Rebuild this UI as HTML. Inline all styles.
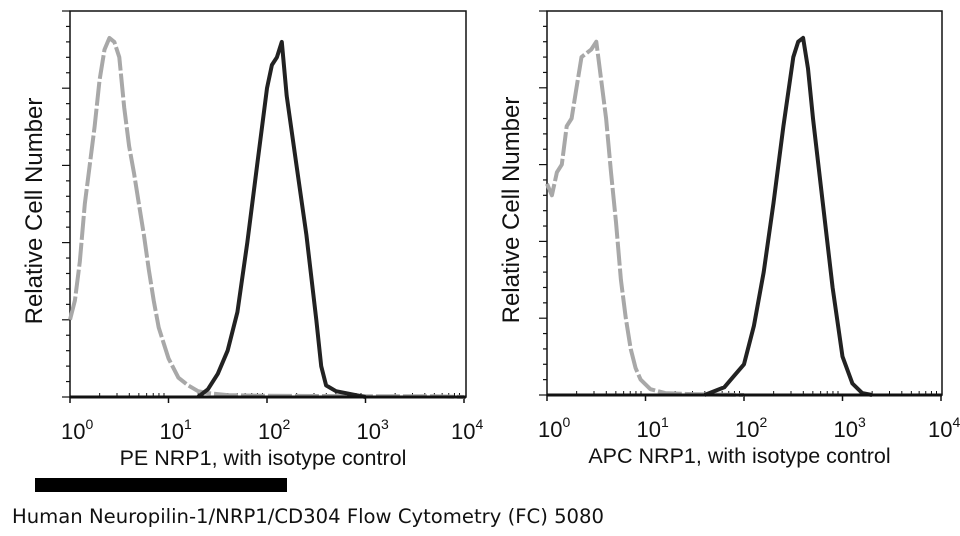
<!DOCTYPE html>
<html><head><meta charset="utf-8"><style>
body{margin:0;background:#fff;width:960px;height:536px;overflow:hidden}
svg{display:block}
</style></head><body>
<svg id="c" width="960" height="536" xmlns="http://www.w3.org/2000/svg">
<rect x="35" y="478" width="252" height="14" fill="#000"/>
<text x="12" y="523" font-family="'DejaVu Sans','Liberation Sans',sans-serif" font-size="19.5" textLength="592" lengthAdjust="spacingAndGlyphs" fill="#111">Human Neuropilin-1/NRP1/CD304 Flow Cytometry (FC) 5080</text>
</svg>
<script>
const decadeLabels = ["0","1","2","3","4"];
const leftGrayX = [0,0.05,0.1,0.15,0.2,0.25,0.3,0.35,0.4,0.45,0.5,0.55,0.6,0.65,0.7,0.75,0.8,0.85,0.9,0.95,1.0,1.1,1.2,1.3,1.4,1.6,2,3,3.7,4];
const leftGrayY = [0.2,0.25,0.35,0.5,0.6,0.7,0.82,0.9,0.93,0.92,0.88,0.75,0.65,0.58,0.5,0.42,0.33,0.25,0.18,0.14,0.1,0.05,0.03,0.015,0.01,0.005,0.003,0.002,0.002,0];
const leftBlackX = [1.3,1.4,1.5,1.6,1.7,1.8,1.9,2.0,2.05,2.1,2.15,2.2,2.3,2.4,2.5,2.55,2.6,2.7,2.9,3.0];
const leftBlackY = [0,0.02,0.06,0.12,0.22,0.4,0.6,0.8,0.86,0.88,0.92,0.78,0.6,0.42,0.2,0.08,0.03,0.015,0.005,0];
const rightGrayX = [0,0.05,0.1,0.15,0.2,0.25,0.3,0.35,0.45,0.5,0.55,0.6,0.65,0.7,0.75,0.8,0.85,0.9,0.95,1.05,1.2,1.5,2];
const rightGrayY = [0.55,0.52,0.58,0.6,0.7,0.72,0.8,0.88,0.9,0.92,0.82,0.72,0.58,0.45,0.3,0.2,0.12,0.07,0.04,0.015,0.005,0.002,0];
const rightBlackX = [1.6,1.8,1.9,2.0,2.1,2.2,2.3,2.4,2.5,2.55,2.6,2.65,2.7,2.8,2.9,3.0,3.1,3.2,3.3];
const rightBlackY = [0,0.02,0.05,0.08,0.18,0.32,0.5,0.7,0.88,0.92,0.93,0.85,0.72,0.5,0.28,0.1,0.03,0.005,0];

const NS="http://www.w3.org/2000/svg";
const svg=document.getElementById('c');
function mk(tag,attrs,parent){const e=document.createElementNS(NS,tag);for(const k in attrs)e.setAttribute(k,attrs[k]);(parent||svg).appendChild(e);return e;}

const panels=[
 {x0:70,x1:466,y0:11,y1:397,title:"PE NRP1, with isotype control",gx:leftGrayX,gy:leftGrayY,bx:leftBlackX,by:leftBlackY,name:"left"},
 {x0:547,x1:942,y0:11,y1:395,title:"APC NRP1, with isotype control",gx:rightGrayX,gy:rightGrayY,bx:rightBlackX,by:rightBlackY,name:"right"}
];
panels.forEach(p=>{
  const dec=98.5;
  const sx=v=>p.x0+v*dec;
  const sy=v=>p.y1-v*(p.y1-p.y0);
  const g=mk('g',{});
  
  
  const box=mk('rect',{x:p.x0,y:p.y0,width:p.x1-p.x0,height:p.y1-p.y0,fill:'none',stroke:'#111','stroke-width':1.5},g);
  
  
  for(let d=0;d<=4;d++){
    const t=mk('line',{x1:sx(d),x2:sx(d),y1:p.y1,y2:p.y1+6,stroke:'#111','stroke-width':1.5},g);
    
    
    const lab=mk('text',{x:sx(d)-(d===4?13:9),y:p.y1+42,'font-family':"'Liberation Sans',sans-serif",'font-size':22,fill:'#111'},g);
    
    
    lab.textContent='10';
    const sup=mk('tspan',{dy:-10,'font-size':14},lab);
    sup.textContent=decadeLabels[d];
    for(let m=2;m<=9;m++){
      const v=d+Math.log10(m); if(v>4.1)continue;
      const mt=mk('line',{x1:sx(v),x2:sx(v),y1:p.y1,y2:p.y1-4,stroke:'#111','stroke-width':1},g);
      
      
    }
  }
  for(let i=0;i<=25;i++){
    const y=p.y1-i*(p.y1-p.y0)/25;
    const major=i%5===0;
    const yt=mk('line',{x1:p.x0,x2:p.x0-(major?8:4),y1:y,y2:y,stroke:'#111','stroke-width':1.2},g);
    
    
  }
  const yl=mk('text',{x:0,y:0,transform:`translate(${p.x0-28},${(p.y0+p.y1)/2+7}) rotate(-90)`,'text-anchor':'middle','font-family':"'Liberation Sans',sans-serif",'font-size':24,fill:'#111'},g);
  
  
  yl.textContent='Relative Cell Number';
  const xl=mk('text',{x:(p.x0+p.x1)/2-5,y:p.y1+68,'text-anchor':'middle','font-family':"'Liberation Sans',sans-serif",'font-size':21.5,fill:'#111'},g);
  
  
  xl.textContent=p.title;
  const pts=(X,Y)=>X.map((v,i)=>sx(v).toFixed(1)+','+sy(Y[i]).toFixed(1)).join(' ');
  const gl=mk('polyline',{points:pts(p.gx,p.gy),fill:'none',stroke:'#a8a8a8','stroke-width':4,'stroke-dasharray':'24 3','stroke-linejoin':'round'},g);
  
  
  const bl=mk('polyline',{points:pts(p.bx,p.by),fill:'none',stroke:'#222','stroke-width':4,'stroke-linejoin':'round'},g);
  
  
  const base=mk('line',{x1:p.x0,x2:p.x1,y1:p.y1,y2:p.y1,stroke:'#111','stroke-width':3},g);
  
  
});
</script>
</body></html>
